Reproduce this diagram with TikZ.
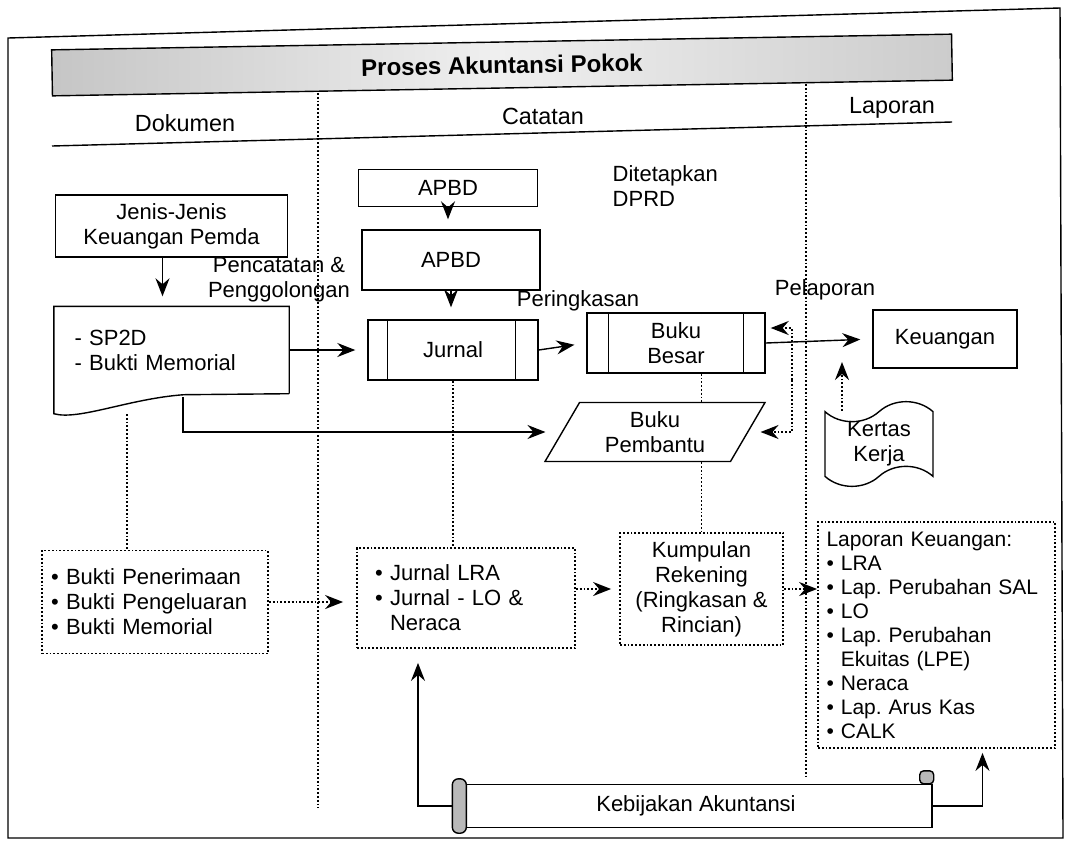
\documentclass[tikz,border=0pt]{standalone}
\usepackage{fontspec}
\setmainfont{Liberation Sans}
\usetikzlibrary{calc, arrows.meta, shapes.geometric, shapes.symbols}

\begin{document}
\frenchspacing
\begin{tikzpicture}[
    x=0.5pt,
    y=-0.5pt,
    font=\fontsize{11}{12.5}\selectfont,
    line width=0.7pt,
    kotak/.style={draw, rectangle, inner sep=0, align=center},
    kotaktitik/.style={draw, densely dotted, line width=0.9pt, rectangle, inner sep=0},
    judul/.style={font=\fontsize{11.7}{14}\selectfont, inner sep=0},
    label/.style={inner sep=0, align=center},
    panah/.style={-{Stealth[length=9pt, width=7pt, inset=3pt]}, shorten >=5pt},
    panahtitik/.style={densely dotted, line width=0.9pt,
      -{Stealth[length=9pt, width=7pt, inset=3pt]}},
    garistitik/.style={densely dotted, line width=0.9pt}]
   \useasboundingbox (0,0) rectangle (1075,852);

   % bingkai dan kepala
   \draw (8,38) -- (1060,8) -- (1063,838) -- (8,838) -- cycle;
   \node(banner) at (502,65) [draw, rotate=1, minimum width=450pt, minimum height=23pt,
     left color=gray!45, right color=gray!40, middle color=gray!12]
     {\bfseries\fontsize{12}{14}\selectfont Proses Akuntansi Pokok};
   \path
     node(dokumen) at (185,123) [judul] {Dokumen}
     node(catatan) at (543,116) [judul] {Catatan}
     node(laporan) at (892,108) [judul] {Laporan};
   \draw (52,146) -- (952,122);
   \draw[garistitik] (318,93) -- (318,808);
   \draw[garistitik] (806,84) -- (806,778);

   % kotak atas
   \path
     node(apbdA)     at (448,188) [kotak, minimum width=89.5pt, minimum height=18.5pt] {APBD}
     node(apbdB)     at (451,260) [kotak, minimum width=89pt, minimum height=30pt] {APBD}
     node(jenis)     at (171.5,226) [kotak, minimum width=116pt, minimum height=31pt]
       {Jenis-Jenis\\Keuangan Pemda}
     node(jurnal)    at (453,350) [kotak, minimum width=85pt, minimum height=30pt] {Jurnal}
     node(bukubesar) at (676,343) [kotak, minimum width=89pt, minimum height=30pt] {Buku\\Besar}
     node(keuangan)  at (945,339) [kotak, minimum width=72pt, minimum height=29pt] {Keuangan}
     node(sp2d)      at (171.5,350) [inner ysep=0, inner xsep=10pt, text width=97pt,
       minimum height=43pt, align=left] {- SP2D\\- Bukti Memorial}
     node(pembantu)  at (655,432) [draw, trapezium, trapezium left angle=50,
       trapezium right angle=130, trapezium stretches body, minimum width=110pt,
       minimum height=29.5pt, inner sep=0, align=center] {Buku\\Pembantu}
     node(kertas)    at (879,444) [draw, tape, tape bend height=10pt, minimum width=54pt,
       minimum height=39pt, inner sep=0, align=center] {Kertas\\Kerja};

   % garis dalam jurnal dan buku besar
   \draw ([xshift=10pt]jurnal.north west) -- ([xshift=10pt]jurnal.south west);
   \draw ([xshift=-11.5pt]jurnal.north east) -- ([xshift=-11.5pt]jurnal.south east);
   \draw ([xshift=11pt]bukubesar.north west) -- ([xshift=11pt]bukubesar.south west);
   \draw ([xshift=-11pt]bukubesar.north east) -- ([xshift=-11pt]bukubesar.south east);

   % dokumen
   \draw (sp2d.south east) -- (sp2d.north east) -- (sp2d.north west)
     -- ($(sp2d.south west)+(0,20)$) .. controls +(25,7) and +(-55,4) ..
     ($(sp2d.south west)+(130,1)$) -- (sp2d.south east);

   % teks lepas
   \path
     node(ditetapkan)  at (612,186) [label, anchor=west, align=left] {Ditetapkan\\DPRD}
     node(pencatatan)  at (279,280) [label] {Pencatatan \&\\Penggolongan}
     node(peringkasan) at (578,301) [label] {Peringkasan}
     node(pelaporan)   at (825,290) [label] {Pelaporan};

   % kotak bawah
   \path
     node(bukti)     at (155,602) [kotaktitik, text width=104pt, inner xsep=4.5pt,
       minimum height=51.5pt, align=left]
       {\textbullet\ Bukti Penerimaan\\\textbullet\ Bukti Pengeluaran\\\textbullet\ Bukti Memorial}
     node(jurnallra) at (466,598) [kotaktitik, text width=91pt, inner xsep=9pt,
       minimum height=50pt, align=left]
       {\textbullet\ Jurnal LRA\\\textbullet\ Jurnal - LO \&\\\hphantom{\textbullet\ }Neraca}
     node(kumpulan)  at (701.5,589) [kotaktitik, minimum width=81.5pt, minimum height=56pt,
       align=center] {Kumpulan\\Rekening\\(Ringkasan \&\\Rincian)}
     node(lapkeu)    at (936.5,635) [kotaktitik, text width=110pt, inner xsep=4.25pt,
       minimum height=113pt, align=left, font=\fontsize{10.5}{12}\selectfont]
       {Laporan Keuangan:\\\textbullet\ LRA\\\textbullet\ Lap. Perubahan SAL\\\textbullet\ LO\\
        \textbullet\ Lap. Perubahan\\\hphantom{\textbullet\ }Ekuitas (LPE)\\
        \textbullet\ Neraca\\\textbullet\ Lap. Arus Kas\\\textbullet\ CALK}
     node(kebijakan) at (696,806) [kotak, minimum width=236pt, minimum height=21.5pt]
       {Kebijakan Akuntansi};

   \coordinate (cabang) at (183,397);
   \coordinate (titikA) at (127,414);
   \coordinate (kurung) at (792,380);
   \coordinate (kkujung) at (842,362);

   % panah
   \draw[panah] (apbdA.south) -- (apbdA.south |- apbdB.north);
   \draw[panah, shorten >=6pt] (apbdB.south) -- (apbdB.south |- jurnal.north);
   \draw[panah] ([xshift=-4.5pt]jenis.south) -- ([xshift=-4.5pt]sp2d.north);
   \draw[panah, shorten >=6pt] (sp2d.east) -- (jurnal.west);
   \draw[panah, shorten >=6pt] (jurnal.east) -- (bukubesar.west);
   \draw[panah, shorten >=6pt] (bukubesar.east) -- (keuangan.west);
   \draw[panah, shorten >=8pt] (cabang) |- (pembantu.west);
   \draw[panahtitik, shorten >=2.5pt] (kurung) |- ([yshift=7.5pt]bukubesar.east);
   \draw[panahtitik, shorten >=6pt] (kurung) |- (pembantu.east);
   \draw[panahtitik] (kkujung |- kertas.north) -- (kkujung);

   % garis titik
   \draw[garistitik] (titikA) -- (titikA |- bukti.north);
   \draw[garistitik] (jurnal.south) -- (jurnal.south |- jurnallra.north);
   \draw[garistitik] (kumpulan.north |- bukubesar.south) -- (kumpulan.north |- pembantu.north);
   \draw[garistitik] (kumpulan.north |- pembantu.south) -- (kumpulan.north);
   \draw[panahtitik, shorten >=6.5pt] (bukti.east) -- (bukti.east -| jurnallra.west);
   \draw[panahtitik, shorten >=4pt] (jurnallra.east |- kumpulan.west) -- (kumpulan.west);
   \draw[panahtitik] (kumpulan.east) -- (kumpulan.east -| lapkeu.west);

   % kebijakan
   \draw[panah, shorten >=7pt] (kebijakan.west) -| ([xshift=-24pt]jurnallra.south);
   \draw[panah, shorten >=2pt] (kebijakan.east) -| ([xshift=23pt]lapkeu.south);
   \draw[fill=gray!55, rounded corners=3pt]
     ($(kebijakan.north west)+(-7,-5)$) rectangle ($(kebijakan.south west)+(7,5)$);
   \draw[fill=gray!55, rounded corners=2pt]
     ($(kebijakan.north east)+(-13,0)$) rectangle ($(kebijakan.north east)+(1,-13)$);
\end{tikzpicture}
\end{document}
